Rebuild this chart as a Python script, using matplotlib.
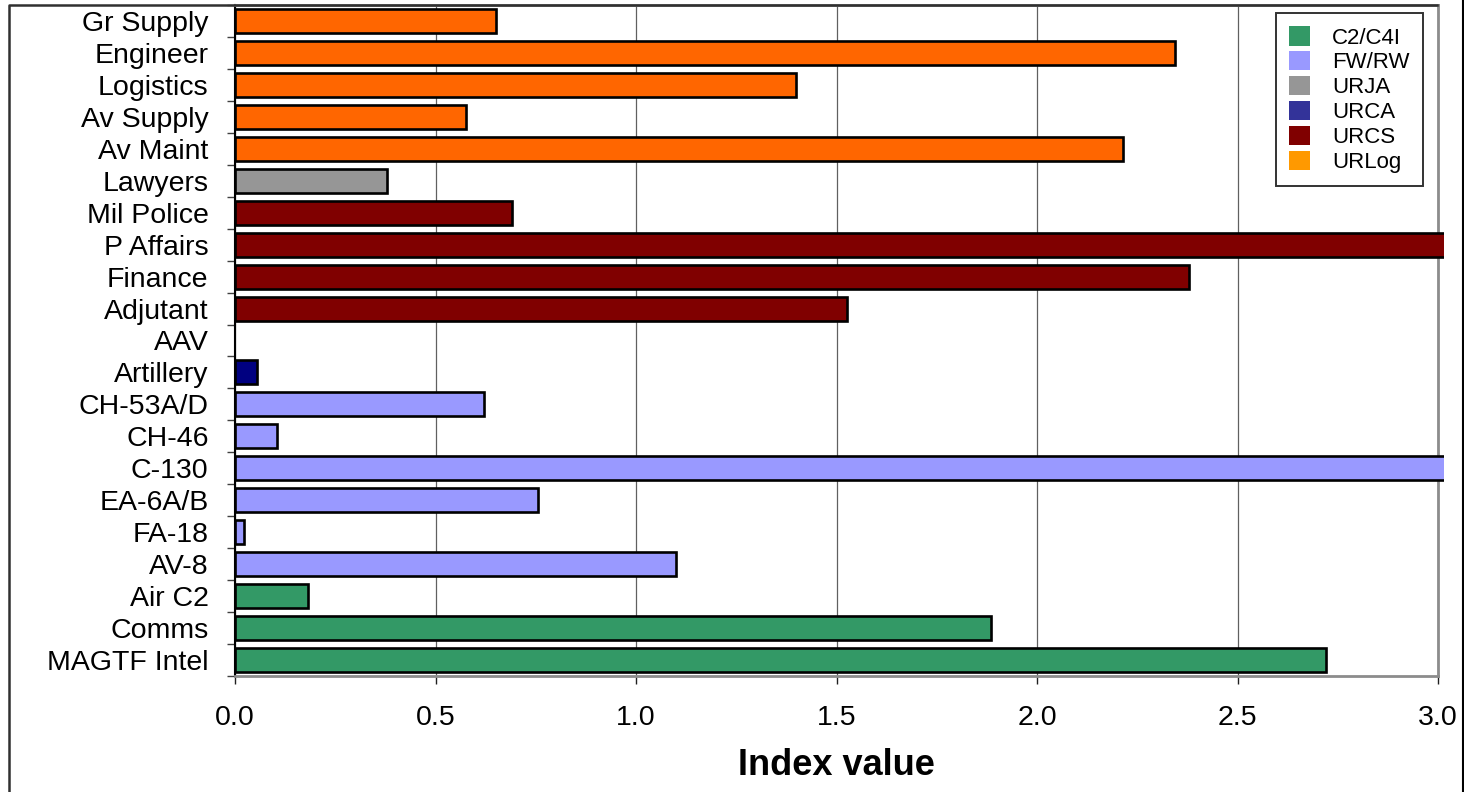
import matplotlib
matplotlib.use("Agg")
import matplotlib.pyplot as plt
from matplotlib.patches import Patch
from matplotlib.lines import Line2D
from matplotlib.transforms import Bbox, TransformedBbox

plt.rcParams["font.family"] = ["Liberation Sans", "DejaVu Sans"]

# Units listed top to bottom
units = ["Gr Supply", "Engineer", "Logistics", "Av Supply", "Av Maint",
         "Lawyers", "Mil Police", "P Affairs", "Finance", "Adjutant",
         "AAV", "Artillery", "CH-53A/D", "CH-46", "C-130", "EA-6A/B",
         "FA-18", "AV-8", "Air C2", "Comms", "MAGTF Intel"]
index_values = [0.65, 2.345, 1.40, 0.575, 2.215,
                0.38, 0.69, 3.25, 2.38, 1.525,
                0.0, 0.055, 0.62, 0.105, 3.30, 0.755,
                0.022, 1.10, 0.183, 1.885, 2.72]
groups = ["URLog", "URLog", "URLog", "URLog", "URLog",
          "URJA", "URCS", "URCS", "URCS", "URCS",
          "URCA", "URCA", "FW/RW", "FW/RW", "FW/RW", "FW/RW",
          "FW/RW", "FW/RW", "C2/C4I", "C2/C4I", "C2/C4I"]

bar_colors = {"C2/C4I": "#339966", "FW/RW": "#9999FF", "URJA": "#969696",
              "URCA": "#000080", "URCS": "#800000", "URLog": "#FF6600"}
legend_order = ["C2/C4I", "FW/RW", "URJA", "URCA", "URCS", "URLog"]
legend_colors = ["#339966", "#9999FF", "#969696", "#333399", "#800000", "#FF9900"]

x_ticks = [0.0, 0.5, 1.0, 1.5, 2.0, 2.5, 3.0]

W, H = 1464, 792
fig = plt.figure(figsize=(W / 100, H / 100), dpi=100)
ax = fig.add_axes([235 / W, 1 - 676 / H, (1438 - 235) / W, (676 - 5) / H])

n = len(units)
ypos = list(range(n))
bars = ax.barh(ypos, index_values, height=0.75,
               color=[bar_colors[g] for g in groups],
               edgecolor="black", linewidth=1.9, zorder=3)

# Bars past the axis maximum are cut just beyond the plot edge
clip = TransformedBbox(Bbox([[-0.01, -0.01], [1.005, 1.01]]), ax.transAxes)
for b, v in zip(bars, index_values):
    b.set_clip_box(clip)
    if v == 0:
        b.set_visible(False)

ax.set_xlim(0, 3.0)
ax.set_ylim(n - 0.5, -0.5)

ax.set_xticks(x_ticks)
ax.set_xticklabels([f"{t:.1f}" for t in x_ticks])
ax.set_yticks(ypos)
ax.set_yticklabels(units)
ax.set_yticks([i + 0.5 for i in range(-1, n)], minor=True)

ax.tick_params(axis="y", which="major", length=0, pad=19, labelsize=20.5)
ax.tick_params(axis="y", which="minor", length=6, width=1.0, color="#404040")
ax.tick_params(axis="x", which="major", length=6, width=1.0, color="#202020",
               pad=15, labelsize=20.5)

ax.grid(axis="x", color="#606060", linewidth=0.9, zorder=0)
ax.set_axisbelow(True)

for side in ["top", "right", "bottom"]:
    ax.spines[side].set_color("#8c8c8c")
    ax.spines[side].set_linewidth(2.0)
ax.spines["left"].set_color("black")
ax.spines["left"].set_linewidth(1.5)
for s in ax.spines.values():
    s.set_zorder(2.5)

ax.set_xlabel("Index value", fontsize=26, fontweight="bold", labelpad=12)

handles = [Patch(facecolor=c, edgecolor="none") for c in legend_colors]
leg = fig.legend(handles, legend_order, loc="upper right",
                 bbox_to_anchor=(1423 / W, 1 - 13 / H),
                 fontsize=16, frameon=True, fancybox=False,
                 edgecolor="black", handlelength=0.95, handleheight=0.95,
                 handletextpad=1.0, labelspacing=0.12, borderpad=0.6,
                 borderaxespad=0)
leg.get_frame().set_linewidth(1.4)

# Outer chart border
fig.add_artist(Line2D([8.5 / W, 8.5 / W, 1437 / W], [0, 1 - 5 / H, 1 - 5 / H],
                      transform=fig.transFigure, color="#303030", linewidth=1.8))
fig.add_artist(Line2D([1462.5 / W, 1462.5 / W], [0, 1],
                      transform=fig.transFigure, color="black", linewidth=1.5))

fig.savefig("out.png", dpi=100)
